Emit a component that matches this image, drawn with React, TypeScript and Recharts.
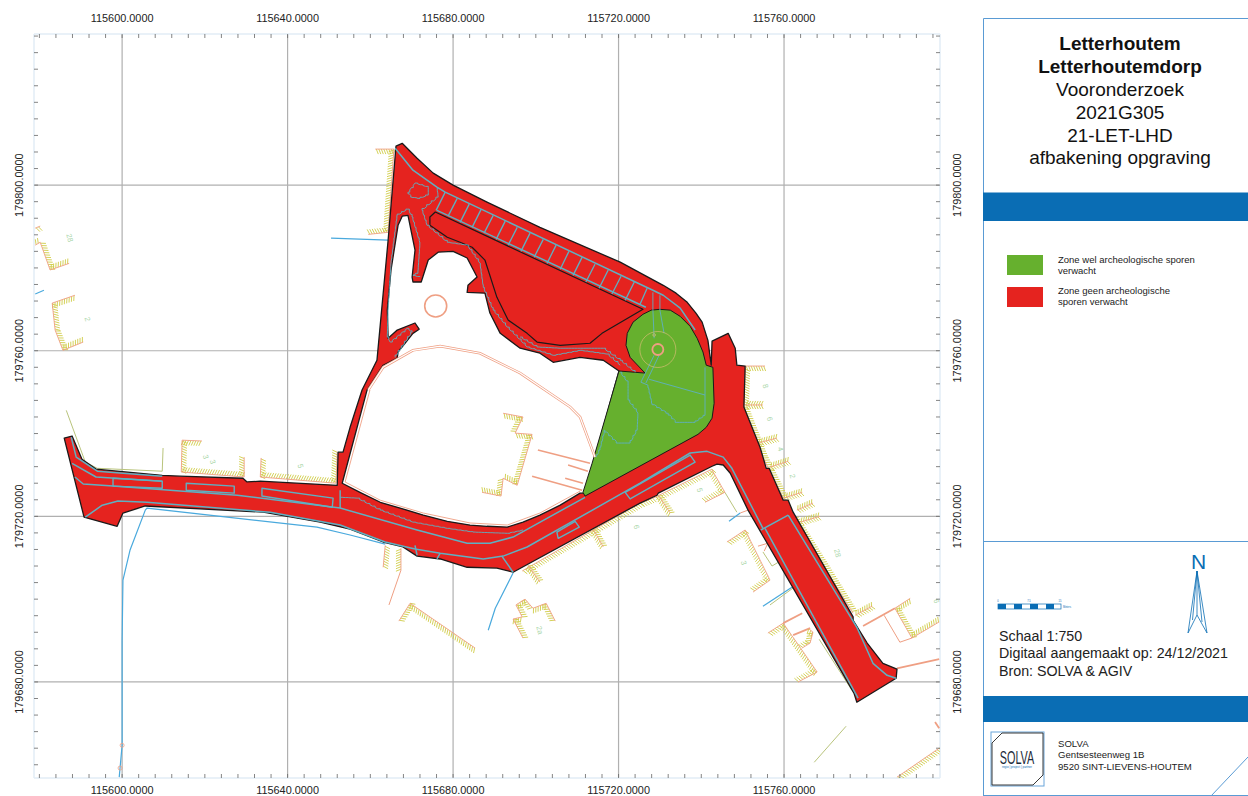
import { CartesianGrid, Scatter, ScatterChart, XAxis, YAxis } from 'recharts'

// all map features are [east, north] in metres, relative to this origin
const EAST0 = 115600
const NORTH0 = 179700

const majorEast = [115600, 115640, 115680, 115720, 115760]
const majorNorth = [179680, 179720, 179760, 179800]
const eastTicks = Array.from({ length: 55 }, (_, i) => 115580 + i * 4)
const northTicks = Array.from({ length: 45 }, (_, i) => 179660 + i * 4)

type P = [number, number]

const zoneOutline: P[] = [
  [67.7, 110.1], [71.3, 106.5], [75.2, 102.9], [80.0, 100.0], [88.2, 95.9], [101.0, 89.8], [120.4, 81.4],
  [130.8, 75.8], [133.9, 73.9], [136.6, 71.7], [138.7, 69.1], [140.2, 66.9], [141.6, 62.5], [142.4, 56.5], [142.6, 62.3], [146.5, 64.2],
  [148.2, 60.6], [148.6, 56.5], [150.6, 56.3], [150.3, 46.4], [154.2, 36.7], [155.7, 31.6], [156.4, 31.6],
  [159.8, 23.9], [161.0, 23.9], [162.2, 21.0], [176.7, -4.3], [176.7, -5.1], [180.1, -10.6], [183.9, -15.5],
  [187.3, -16.9], [187.1, -19.1], [177.6, -24.9], [176.9, -22.7], [151.3, 21.5], [147.0, 30.4], [145.3, 32.4],
  [143.8, 32.6], [142.6, 32.1], [129.6, 25.6], [129.3, 25.1], [125.2, 23.2], [94.5, 6.5], [90.6, 7.5],
  [83.4, 7.7], [76.9, 9.7], [71.3, 10.4], [67.9, 12.6], [63.1, 13.8], [55.1, 16.9], [47.9, 18.6], [34.1, 21.0],
  [5.6, 22.5], [0.2, 20.8], [-1.2, 17.6], [-9.2, 19.8], [-14.0, 38.9], [-12.1, 39.4], [-9.7, 33.8], [-6.3, 31.4],
  [9.7, 29.9], [14.0, 29.7], [29.2, 29.2], [30.2, 28.3], [33.4, 28.5], [52.0, 27.5], [52.2, 35.5], [53.4, 35.5],
  [55.1, 41.5], [58.0, 50.5], [61.6, 57.7], [64.3, 86.7], [66.2, 109.4],
]
const parkHole: P[] = [
  [53.2, 28.0], [59.2, 50.5], [63.1, 56.5], [66.5, 58.2], [66.7, 59.7], [70.3, 64.2], [71.8, 65.2], [70.8, 66.7],
  [66.5, 65.0], [64.3, 63.0], [64.1, 69.8], [65.0, 79.5], [66.7, 90.3], [67.7, 92.5], [69.1, 92.7], [70.8, 84.3],
  [70.1, 77.8], [70.3, 76.6], [72.3, 76.6], [74.0, 81.9], [76.4, 83.8], [80.0, 84.0], [83.4, 82.4], [85.8, 77.8],
  [83.6, 75.8], [83.4, 74.1], [87.7, 73.9], [88.9, 69.1], [91.4, 64.2], [96.2, 60.6], [101.0, 59.4], [104.2, 57.2],
  [110.7, 58.4], [116.3, 57.7], [120.1, 55.1], [111.9, 25.6], [110.7, 25.6], [105.9, 22.7], [101.0, 20.3], [96.9, 18.6], [93.1, 17.4],
  [88.2, 17.6], [84.1, 17.9], [78.6, 18.8], [72.8, 20.3], [67.2, 22.0], [62.4, 23.4], [57.5, 25.8],
]
const wedge: P[] = [
  [75.7, 93.5], [74.4, 92.3], [74.4, 90.3], [78.6, 87.4], [81.7, 86.2], [84.6, 85.0], [87.7, 81.9], [90.6, 72.9],
  [93.3, 67.4], [97.9, 64.2], [100.3, 62.1], [105.9, 61.3], [113.1, 61.8], [116.0, 64.2], [125.9, 70.0],
]
const greenZone: P[] = [
  [120.1, 55.1], [126.4, 54.6], [122.8, 58.4], [121.8, 61.3], [122.1, 64.2], [123.5, 66.9], [125.9, 68.8], [127.9, 69.8], [130.0, 70.0],
  [132.5, 69.8], [134.9, 68.3], [137.3, 65.9], [139.0, 63.0], [140.4, 59.7], [141.2, 56.5], [142.8, 56.0], [143.1, 47.3], [142.6, 43.7],
  [141.2, 41.5], [139.2, 39.8], [111.9, 24.9], [111.4, 25.8], [113.6, 32.8],
]

const roadLines: P[][] = [
  [[-12.3, 39.1], [-11.1, 34.3], [-6.0, 30.9], [9.7, 29.7]],
  [[-12.1, 32.8], [-6.3, 29.5], [9.7, 28.5]],
  [[-11.4, 29.5], [-9.4, 27.8], [-2.2, 27.3], [27.8, 25.1], [52.7, 22.0], [71.3, 16.7], [83.4, 13.5], [88.9, 13.5], [94.5, 15.0], [111.9, 24.6]],
  [[-8.9, 19.8], [-4.8, 22.7], [-1.0, 23.7], [6.0, 23.4], [35.8, 21.0], [52.7, 17.9], [63.6, 13.8], [70.8, 12.1], [76.9, 11.1], [87.3, 9.7], [92.1, 10.4], [97.9, 12.6], [125.2, 28.0], [137.3, 35.3], [141.4, 35.7], [145.3, 34.3], [147.4, 31.6], [154.9, 17.1]],
  [[155.4, 17.1], [177.9, -23.9]],
  [[161.0, 20.3], [177.6, -6.8], [181.5, -15.5], [184.9, -18.4], [187.1, -19.1]],
  [[154.4, 16.7], [161.0, 20.3]],
  [[52.7, 26.3], [52.7, 22.0]],
  [[70.8, 13.0], [71.3, 10.6]],
  [[76.9, 11.1], [76.1, 9.7]],
  [[91.8, 10.4], [94.5, 6.5]],
  [[66.0, 108.9], [70.3, 103.6], [76.1, 99.5], [78.1, 98.3], [128.3, 74.6], [130.8, 73.4], [134.9, 70.3], [138.5, 65.0]],
  [[76.1, 93.9], [126.6, 70.5]],
]
const roadBoxes: P[][] = [
  [[-2.2, 29.2], [9.7, 28.5], [9.7, 26.8], [-2.2, 27.3]],
  [[15.5, 28.0], [27.1, 27.3], [27.1, 25.6], [15.5, 26.3]],
  [[33.8, 26.8], [51.0, 24.4], [50.8, 22.2], [33.8, 24.9]],
  [[105.1, 16.2], [109.5, 18.8], [110.5, 17.4], [105.4, 14.7]],
  [[121.6, 25.8], [137.3, 34.8], [138.5, 33.1], [122.8, 24.2]],
]
const parkingBays: P[][] = [
  [[78.1, 98.3], [75.9, 93.9]], [[81.0, 96.8], [78.8, 92.5]], [[83.9, 95.4], [81.7, 91.0]], [[86.8, 94.2], [84.6, 89.8]],
  [[89.7, 92.7], [87.5, 88.4]], [[92.6, 91.3], [90.4, 86.9]], [[95.5, 89.8], [93.3, 85.5]], [[98.6, 88.4], [96.4, 84.0]],
  [[101.8, 86.9], [99.6, 82.6]], [[104.9, 85.5], [102.7, 81.1]], [[108.0, 84.0], [105.9, 79.7]], [[111.2, 82.6], [109.0, 78.2]],
  [[114.3, 80.9], [112.1, 76.6]], [[117.5, 79.5], [115.3, 75.1]], [[120.6, 78.0], [118.4, 73.7]], [[123.8, 76.6], [121.6, 72.2]],
  [[126.9, 75.1], [125.2, 71.2]],
]
const hedgeLines: P[][] = [
  [[52.7, 24.6], [56.8, 24.4], [62.4, 21.5], [70.3, 18.6], [78.6, 17.1], [84.8, 16.2], [93.1, 15.9], [96.9, 16.7]],
  [[76.1, 99.3], [76.4, 97.1], [72.5, 93.9], [73.7, 90.3], [78.6, 86.2], [83.4, 85.5], [86.5, 81.1], [87.3, 75.3], [89.7, 69.8], [93.1, 65.7], [97.9, 60.9], [104.2, 58.9], [110.7, 60.1], [117.2, 59.2], [120.4, 56.5]],
  [[96.2, 63.3], [100.3, 60.9], [105.9, 60.6], [116.3, 60.6], [120.4, 57.7], [124.0, 54.8]],
  [[69.1, 94.2], [66.5, 92.7], [65.0, 81.1], [64.3, 69.8], [64.1, 63.3], [64.8, 62.1], [68.9, 65.4], [70.1, 64.5], [66.0, 58.4]],
  [[69.1, 94.2], [70.1, 92.3], [72.0, 86.0], [71.5, 78.7], [70.3, 78.2], [72.0, 77.8]],
  [[69.1, 98.3], [70.8, 100.5], [74.0, 99.5], [74.0, 97.6], [72.0, 96.8], [70.1, 97.1], [69.1, 98.3]],
  [[140.9, 44.4], [138.5, 42.7], [134.1, 42.7], [132.0, 44.9], [128.1, 47.3], [127.1, 51.7]],
  [[120.4, 54.8], [122.3, 52.2], [122.3, 48.1], [124.7, 44.9], [124.5, 40.8], [122.8, 37.7], [119.9, 37.7], [116.7, 40.8], [115.5, 36.0], [114.6, 34.3]],
]
const greenZoneLines: P[][] = [
  [[128.3, 74.1], [128.3, 70.0], [128.6, 63.0]],
  [[130.0, 73.4], [130.0, 69.8], [131.0, 64.2]],
  [[129.8, 58.9], [126.6, 52.2]],
  [[125.4, 52.4], [128.6, 58.9]],
  [[125.4, 52.4], [127.1, 51.7]],
  [[127.4, 53.1], [140.9, 49.3]],
  [[140.9, 56.0], [140.9, 44.4]],
]

// slopes, walked so that the hatching falls on one side of the walk
const slopesRight: P[][] = [
  [[61.2, 108.7], [65.7, 108.7], [64.3, 88.6], [59.5, 88.1]],
  [[-21.0, 89.6], [-19.8, 90.1]],
  [[67.4, 12.3], [67.4, 7.0]],
  [[66.9, -5.3], [69.6, -1.0], [85.3, -11.8]],
  [[96.7, 6.8], [125.2, 23.2], [128.8, 24.6], [142.6, 31.4]],
  [[150.6, 56.3], [155.4, 56.3]],
  [[142.6, 31.2], [145.7, 25.8], [140.9, 23.4]],
  [[146.2, 13.8], [150.6, 16.7], [156.6, 4.6], [152.5, 1.7]],
  [[156.1, -8.2], [159.8, -5.8], [168.0, -17.6], [163.4, -20.0]],
  [[165.8, -7.0], [167.0, -8.0], [166.3, -10.6], [164.4, -11.8]],
  [[187.3, -43.0], [197.5, -36.0]],
]
const slopesLeft: P[][] = [
  [[19.3, 38.2], [14.5, 38.4], [14.3, 30.7], [29.5, 29.5], [29.5, 34.3]],
  [[33.6, 34.1], [33.4, 29.5], [51.7, 28.0], [52.0, 35.5]],
  [[-21.0, 85.5], [-19.8, 86.2], [-17.4, 79.5], [-12.8, 81.1]],
  [[-11.4, 73.4], [-16.9, 71.5], [-16.2, 65.0], [-14.3, 60.1], [-9.4, 62.1]],
  [[63.6, 13.0], [63.1, 7.7]],
  [[104.7, -5.3], [102.5, -1.0], [99.3, -2.2], [97.4, 0], [95.2, -1.4], [96.7, -4.3], [94.5, -4.8], [96.9, -9.4]],
  [[150.6, 55.8], [150.3, 46.1], [154.9, 34.3], [156.4, 31.2], [159.8, 24.4]],
  [[162.2, 19.8], [176.7, -3.4]],
  [[190.5, 0.2], [186.8, -2.2], [190.9, -9.4], [197.5, -5.5]],
]
const slopesBoth: P[][] = [
  [[113.6, 17.4], [116.3, 12.6]],
  [[98.1, 8.2], [101.0, 4.1]],
  [[129.6, 25.1], [132.5, 20.8]],
  [[150.6, 46.9], [154.9, 46.9]],
  [[153.7, 37.7], [158.3, 38.9]],
  [[156.6, 31.9], [161.0, 33.3]],
  [[159.8, 24.4], [164.4, 25.8]],
  [[163.1, 21.5], [167.0, 23.2]],
  [[163.9, 18.6], [168.7, 20.0]],
  [[177.2, -3.9], [181.3, -1.7]],
]
const parkBuilding: P[] = [
  [92.1, 44.9], [96.9, 44.0], [95.0, 40.1], [99.1, 39.8], [95.5, 27.5], [92.1, 29.2], [91.6, 24.9], [87.0, 25.8],
]

const thinSalmon: P[][] = [
  [[67.4, 7.0], [64.5, -1.4]],
  [[153.7, 12.8], [156.1, 13.5], [155.2, 11.6]],
  [[184.2, -3.9], [188.0, -10.4], [190.9, -9.4]],
  [[149.4, 20.8], [151.3, 21.5]],
]
const parkEdge: P[] = [
  [59.9, 50.5], [53.9, 28.3], [62.4, 23.9], [72.8, 20.8], [84.1, 18.4], [93.1, 17.9], [101.0, 20.8], [110.7, 26.1],
]
const thickSalmon: P[][] = [
  [[159.8, -5.8], [164.4, -3.4]],
  [[162.2, -8.7], [166.3, -7.0]],
  [[179.1, -6.5], [186.8, -2.2]],
  [[187.3, -16.7], [197.5, -14.5]],
  [[196.5, -29.7], [197.5, -31.2]],
]
const parkThick: P[][] = [
  [[100.5, 36.0], [113.1, 32.8]],
  [[107.8, 32.4], [112.6, 30.9]],
  [[99.1, 29.7], [111.2, 26.3]],
  [[107.1, 29.2], [111.4, 28.0]],
]
const parkPath: P[] = [
  [59.5, 50.5], [63.1, 56.0], [70.3, 60.1], [76.9, 61.1], [86.5, 59.4], [96.2, 54.6], [108.3, 46.4], [110.7, 44.0], [114.3, 34.3],
]
const oliveLines: P[][] = [
  [[-13.5, 45.6], [-8.9, 33.1], [-6.0, 31.6], [9.7, 30.9], [9.9, 36.5]],
  [[145.7, 25.8], [148.6, 21.0]],
  [[154.9, 11.4], [157.1, 8.0], [158.6, 8.9]],
  [[156.6, -1.4], [162.2, 2.7]],
  [[168.5, -9.7], [176.4, -22.0]],
  [[167.3, -39.4], [175.0, -30.7]],
]
const blueLines: P[][] = [
  [[50.5, 87.2], [64.3, 86.7]],
  [[-21.0, 73.7], [-18.9, 74.6]],
  [[-0.7, -43.0], [-0.5, -40.8], [0, -35.3], [0, -9.9], [0.2, 4.6], [1.9, 11.8], [5.6, 21.5], [6.0, 22.0], [47.1, 17.4], [55.1, 15.5], [63.6, 13.3]],
  [[94.5, 6.3], [90.2, -2.2], [88.5, -7.5]],
  [[146.7, 18.8], [149.4, 20.8]],
  [[154.9, -1.7], [161.9, 2.9]],
]

const parkCircle: P[] = [[75.8, 70.8]]
const treeCrown: P[] = [[129.5, 60.3]]
const treeTrunk: P[] = [[129.5, 60.3]]
const treeDot: P[] = [[128.6, 63.8]]
const valves: P[] = [[0, -35.3], [-0.5, -40.8]]

const heightLabels = ['28', '2', '3', '3', '5', '6', '2a', '5', '8', '6', '4', '2', '28', '3', '6']
const heightPositions: P[] = [
  [-12.8, 87.2], [-8.5, 67.6], [20.1, 34.3], [21.8, 33.1], [43.0, 32.1], [124.2, 17.4], [100.8, -7.5], [139.5, 26.3],
  [155.4, 51.4], [156.4, 43.5], [159.0, 36.2], [161.9, 29.7], [172.8, 11.1], [150.1, 8.7], [196.7, -0.5],
]

const titleBold = ['Letterhoutem', 'Letterhoutemdorp']
const titleRegular = ['Vooronderzoek', '2021G305', '21-LET-LHD', 'afbakening opgraving']
const legendGreen = ['Zone wel archeologische sporen', 'verwacht']
const legendRed = ['Zone geen archeologische', 'sporen verwacht']
const infoLines = ['Schaal 1:750', 'Digitaal aangemaakt op: 24/12/2021', 'Bron: SOLVA & AGIV']
const addressLines = ['SOLVA', 'Gentsesteenweg 1B', '9520 SINT-LIEVENS-HOUTEM']

const FONT = '"Liberation Sans", Arial, sans-serif'
const RED = '#e5231f'
const GREEN = '#66b02e'
const TEAL = '#5fb0c2'
const SALMON = '#ef9f83'
const HATCH = '#cfcc46'
const OLIVE = '#b9c47c'
const BLUE = '#49a9dd'
const PANEL_BLUE = '#0a6db4'
const LABEL_GREEN = '#a9d6a9'

const toPoints = (list: P[]) => list.map(([e, n]) => ({ x: EAST0 + e, y: NORTH0 + n }))
const pathOf = (pts: any[], closed = false) =>
  'M' + pts.map((p) => `${p.x},${p.y}`).join('L') + (closed ? 'Z' : '')

const NoDot = () => <g />

const polygon = (fill: string, stroke: string, width: number) => (props: any) => (
  <path d={pathOf(props.points, true)} fill={fill} stroke={stroke} strokeWidth={width} strokeLinejoin="round" />
)
const polyline = (stroke: string, width: number, closed = false) => (props: any) => (
  <path d={pathOf(props.points, closed)} fill="none" stroke={stroke} strokeWidth={width} strokeLinejoin="round" />
)
const doubleLine = (props: any) => (
  <g fill="none">
    <path d={pathOf(props.points)} stroke={SALMON} strokeWidth={2.6} />
    <path d={pathOf(props.points)} stroke="#fff" strokeWidth={1.2} />
  </g>
)

// the hedges were digitised on a raster, so each leg is walked as small stairs
const stairs = (stroke: string, width: number) => (props: any) => {
  const pts = props.points
  let d = `M${pts[0].x},${pts[0].y}`
  for (let i = 0; i < pts.length - 1; i++) {
    const a = pts[i]
    const b = pts[i + 1]
    const n = Math.max(1, Math.ceil(Math.hypot(b.x - a.x, b.y - a.y) / 3))
    for (let k = 1; k <= n; k++) {
      const x = a.x + ((b.x - a.x) * k) / n
      const y = a.y + ((b.y - a.y) * k) / n
      d += k % 2 ? `L${x},${a.y + ((b.y - a.y) * (k - 1)) / n}L${x},${y}` : `L${x},${y}`
    }
  }
  return <path d={d} fill="none" stroke={stroke} strokeWidth={width} />
}

// salmon top line with short olive strokes hanging off one side of it, every few pixels
const hatched = (sides: number[], len: number) => (props: any) => {
  const pts = props.points
  let d = ''
  for (let i = 0; i < pts.length - 1; i++) {
    const dx = pts[i + 1].x - pts[i].x
    const dy = pts[i + 1].y - pts[i].y
    const l = Math.hypot(dx, dy)
    const ux = dx / l
    const uy = dy / l
    for (let s = 1; s < l; s += 2.5) {
      const px = pts[i].x + ux * s
      const py = pts[i].y + uy * s
      for (const side of sides) {
        d += `M${px},${py}L${px - uy * side * len + ux * 2},${py + ux * side * len + uy * 2}`
      }
    }
  }
  return (
    <g fill="none">
      <path d={d} stroke={HATCH} strokeWidth={0.9} />
      <path d={pathOf(pts)} stroke={SALMON} strokeWidth={0.9} />
    </g>
  )
}

const circle = (r: number, stroke: string, width: number) => (props: any) => (
  <circle cx={props.cx} cy={props.cy} r={r} fill="none" stroke={stroke} strokeWidth={width} />
)

const HeightLabel = (props: any) => (
  <text
    x={props.cx}
    y={props.cy}
    fontSize={7.5}
    fontFamily={FONT}
    fill={LABEL_GREEN}
    textAnchor="middle"
    dominantBaseline="middle"
    transform={`rotate(75 ${props.cx} ${props.cy})`}
  >
    {heightLabels[props.index]}
  </text>
)

const lineSeries = (key: string, list: P[], line: any) => (
  <Scatter key={key} data={toPoints(list)} line={line} shape={NoDot} isAnimationActive={false} legendType="none" />
)
const lineGroup = (key: string, lists: P[][], line: any) => lists.map((l, i) => lineSeries(`${key}-${i}`, l, line))

const axisText = { fontSize: 10.9, fontFamily: FONT, fill: '#222' }
const TICK = '#666'

const TopTick = ({ x, y, payload }: any) => (
  <g>
    <line x1={x} x2={x} y1={y} y2={y + 4} stroke={TICK} strokeWidth={0.8} />
    {majorEast.includes(payload.value) && (
      <text x={x} y={22} textAnchor="middle" {...axisText}>
        {payload.value.toFixed(4)}
      </text>
    )}
  </g>
)
const BottomTick = ({ x, y, payload }: any) => (
  <g>
    <line x1={x} x2={x} y1={y} y2={y - 4} stroke={TICK} strokeWidth={0.8} />
    {majorEast.includes(payload.value) && (
      <text x={x} y={794} textAnchor="middle" {...axisText}>
        {payload.value.toFixed(4)}
      </text>
    )}
  </g>
)
const LeftTick = ({ x, y, payload }: any) => (
  <g>
    <line x1={x} x2={x + 4} y1={y} y2={y} stroke={TICK} strokeWidth={0.8} />
    {majorNorth.includes(payload.value) && (
      <text x={23} y={y} textAnchor="middle" transform={`rotate(-90 23 ${y})`} {...axisText}>
        {payload.value.toFixed(4)}
      </text>
    )}
  </g>
)
const RightTick = ({ x, y, payload }: any) => (
  <g>
    <line x1={x} x2={x - 4} y1={y} y2={y} stroke={TICK} strokeWidth={0.8} />
    {majorNorth.includes(payload.value) && (
      <text x={961} y={y} textAnchor="middle" transform={`rotate(-90 961 ${y})`} {...axisText}>
        {payload.value.toFixed(4)}
      </text>
    )}
  </g>
)

const xDomain = [115578.7, 115797.7]
const yDomain = [179656.8, 179836.5]
const frame = { stroke: '#e2ecf6', strokeWidth: 1.5 }

function SidePanel() {
  const scaleBar = [998, 1006, 1014, 1022, 1030, 1038, 1046, 1054]
  return (
    <svg width={265} height={796} viewBox="983 0 265 796" style={{ position: 'absolute', left: 983, top: 0 }} fontFamily={FONT}>
      <path d="M983.5,796V18.5H1248M983,541.5H1248M983,795.5H1248M1211,796L1248,757" fill="none" stroke="#5a9bd4" strokeWidth={1} />
      <rect x={983} y={192.5} width={265} height={28.5} fill={PANEL_BLUE} />
      <rect x={983} y={696} width={265} height={26} fill={PANEL_BLUE} />
      {titleBold.map((t, i) => (
        <text key={t} x={1120} y={50 + i * 22.6} fontSize={19} fontWeight={700} textAnchor="middle" fill="#111">{t}</text>
      ))}
      {titleRegular.map((t, i) => (
        <text key={t} x={1120} y={96 + i * 22.8} fontSize={19} textAnchor="middle" fill="#111">{t}</text>
      ))}
      <rect x={1007} y={255} width={36} height={20} fill={GREEN} />
      <rect x={1007} y={287} width={36} height={20} fill={RED} />
      {legendGreen.map((t, i) => (
        <text key={t} x={1058} y={263 + i * 11} fontSize={9.5} fill="#222">{t}</text>
      ))}
      {legendRed.map((t, i) => (
        <text key={t} x={1058} y={294 + i * 11} fontSize={9.5} fill="#222">{t}</text>
      ))}
      <text x={1198.5} y={568.5} fontSize={21} textAnchor="middle" fill={PANEL_BLUE}>N</text>
      <path d="M1197,571L1188,633L1197,615L1207,633ZM1197,571V615M1197,571L1192.5,620M1197,571L1202,622" fill="none" stroke={PANEL_BLUE} strokeWidth={0.8} />
      <rect x={998} y={604} width={63} height={5} fill="#fff" stroke={PANEL_BLUE} strokeWidth={0.7} />
      {scaleBar.filter((_, i) => i % 2 === 0).map((x) => (
        <rect key={x} x={x} y={604} width={8} height={5} fill={PANEL_BLUE} />
      ))}
      <text x={998} y={602} fontSize={2.6} fill={PANEL_BLUE} textAnchor="middle">0</text>
      <text x={1029} y={602} fontSize={2.6} fill={PANEL_BLUE} textAnchor="middle">7.5</text>
      <text x={1060} y={602} fontSize={2.6} fill={PANEL_BLUE} textAnchor="middle">15</text>
      <text x={1063} y={608} fontSize={2.6} fill={PANEL_BLUE}>Meters</text>
      {infoLines.map((t, i) => (
        <text key={t} x={999} y={641 + i * 17.4} fontSize={14.25} fill="#222">{t}</text>
      ))}
      <rect x={991} y={732} width={53} height={54} fill="#fff" stroke="#6aa5da" strokeWidth={1} />
      <path d="M1002,733L992,743V785H1033L1043,775V733Z" fill="none" stroke="#222" strokeWidth={0.9} />
      <text x={0} y={0} fontSize={19} textAnchor="middle" fill="#1c2b3a" transform="translate(1017 763.5) scale(0.57 1)">SOLVA</text>
      <text x={1017} y={768} fontSize={3} textAnchor="middle" fill={PANEL_BLUE}>regio | project | partner</text>
      {addressLines.map((t, i) => (
        <text key={t} x={1058} y={747 + i * 11.4} fontSize={9.6} fill="#222">{t}</text>
      ))}
    </svg>
  )
}

export default function App() {
  return (
    <div style={{ position: 'absolute', left: 0, top: 0, width: 1248, height: 796, overflow: 'hidden', background: '#fff' }}>
      <ScatterChart width={1248} height={796} margin={{ top: 0, right: 0, bottom: 0, left: 0 }}>
        <CartesianGrid
          stroke="#b0b0b0"
          strokeWidth={1.2}
          verticalValues={majorEast}
          horizontalValues={majorNorth}
        />
        <XAxis type="number" dataKey="x" domain={xDomain} ticks={eastTicks} interval={0} allowDataOverflow height={18}
          tick={BottomTick} tickLine={false} tickSize={0} tickMargin={0} axisLine={frame} />
        <XAxis type="number" dataKey="x" xAxisId="top" orientation="top" domain={xDomain} ticks={eastTicks} interval={0} allowDataOverflow height={34}
          tick={TopTick} tickLine={false} tickSize={0} tickMargin={0} axisLine={frame} />
        <YAxis type="number" dataKey="y" domain={yDomain} ticks={northTicks} interval={0} allowDataOverflow width={34}
          tick={LeftTick} tickLine={false} tickSize={0} tickMargin={0} axisLine={frame} />
        <YAxis type="number" dataKey="y" yAxisId="right" orientation="right" domain={yDomain} ticks={northTicks} interval={0} allowDataOverflow width={308}
          tick={RightTick} tickLine={false} tickSize={0} tickMargin={0} axisLine={frame} />

        {lineGroup('blue', blueLines, polyline(BLUE, 1.2))}
        {lineGroup('olive', oliveLines, polyline(OLIVE, 1))}
        {lineGroup('thin', thinSalmon, polyline(SALMON, 1))}
        {lineGroup('thick', thickSalmon, polyline(SALMON, 1.8))}
        {lineGroup('right', slopesRight, hatched([1], 5))}
        {lineGroup('left', slopesLeft, hatched([-1], 5))}
        {lineGroup('both', slopesBoth, hatched([1, -1], 4))}

        {lineSeries('zone', zoneOutline, polygon(RED, '#1a1a1a', 1.3))}
        {lineSeries('hole', parkHole, polygon('#fff', '#1a1a1a', 1.3))}
        {lineSeries('wedge', wedge, polygon(RED, '#1a1a1a', 1.2))}
        {lineSeries('green', greenZone, polygon(GREEN, '#1a1a1a', 1))}

        {lineSeries('parkPath', parkPath, doubleLine)}
        {lineSeries('parkEdge', parkEdge, polyline(SALMON, 0.9))}
        {lineSeries('building', parkBuilding, hatched([1], 5))}
        {lineGroup('parkThick', parkThick, polyline(SALMON, 1.5))}

        {lineGroup('road', roadLines, polyline(TEAL, 1.5))}
        {lineGroup('box', roadBoxes, polyline(TEAL, 1.4, true))}
        {lineGroup('bay', parkingBays, polyline(TEAL, 1.3))}
        {lineGroup('hedge', hedgeLines, stairs(TEAL, 0.9))}
        {lineGroup('greenLine', greenZoneLines, polyline(TEAL, 0.9))}

        <Scatter data={toPoints(parkCircle)} shape={circle(11, SALMON, 1.6)} isAnimationActive={false} legendType="none" />
        <Scatter data={toPoints(treeCrown)} shape={circle(18, '#d6bd72', 0.7)} isAnimationActive={false} legendType="none" />
        <Scatter data={toPoints(treeTrunk)} shape={circle(5.5, SALMON, 1.8)} isAnimationActive={false} legendType="none" />
        <Scatter data={toPoints(treeDot)} shape={circle(1.3, '#d6bd72', 0.8)} isAnimationActive={false} legendType="none" />
        <Scatter data={toPoints(valves)} shape={circle(2, SALMON, 0.8)} isAnimationActive={false} legendType="none" />
        <Scatter data={toPoints(heightPositions)} shape={HeightLabel} isAnimationActive={false} legendType="none" />
      </ScatterChart>
      <SidePanel />
    </div>
  )
}
